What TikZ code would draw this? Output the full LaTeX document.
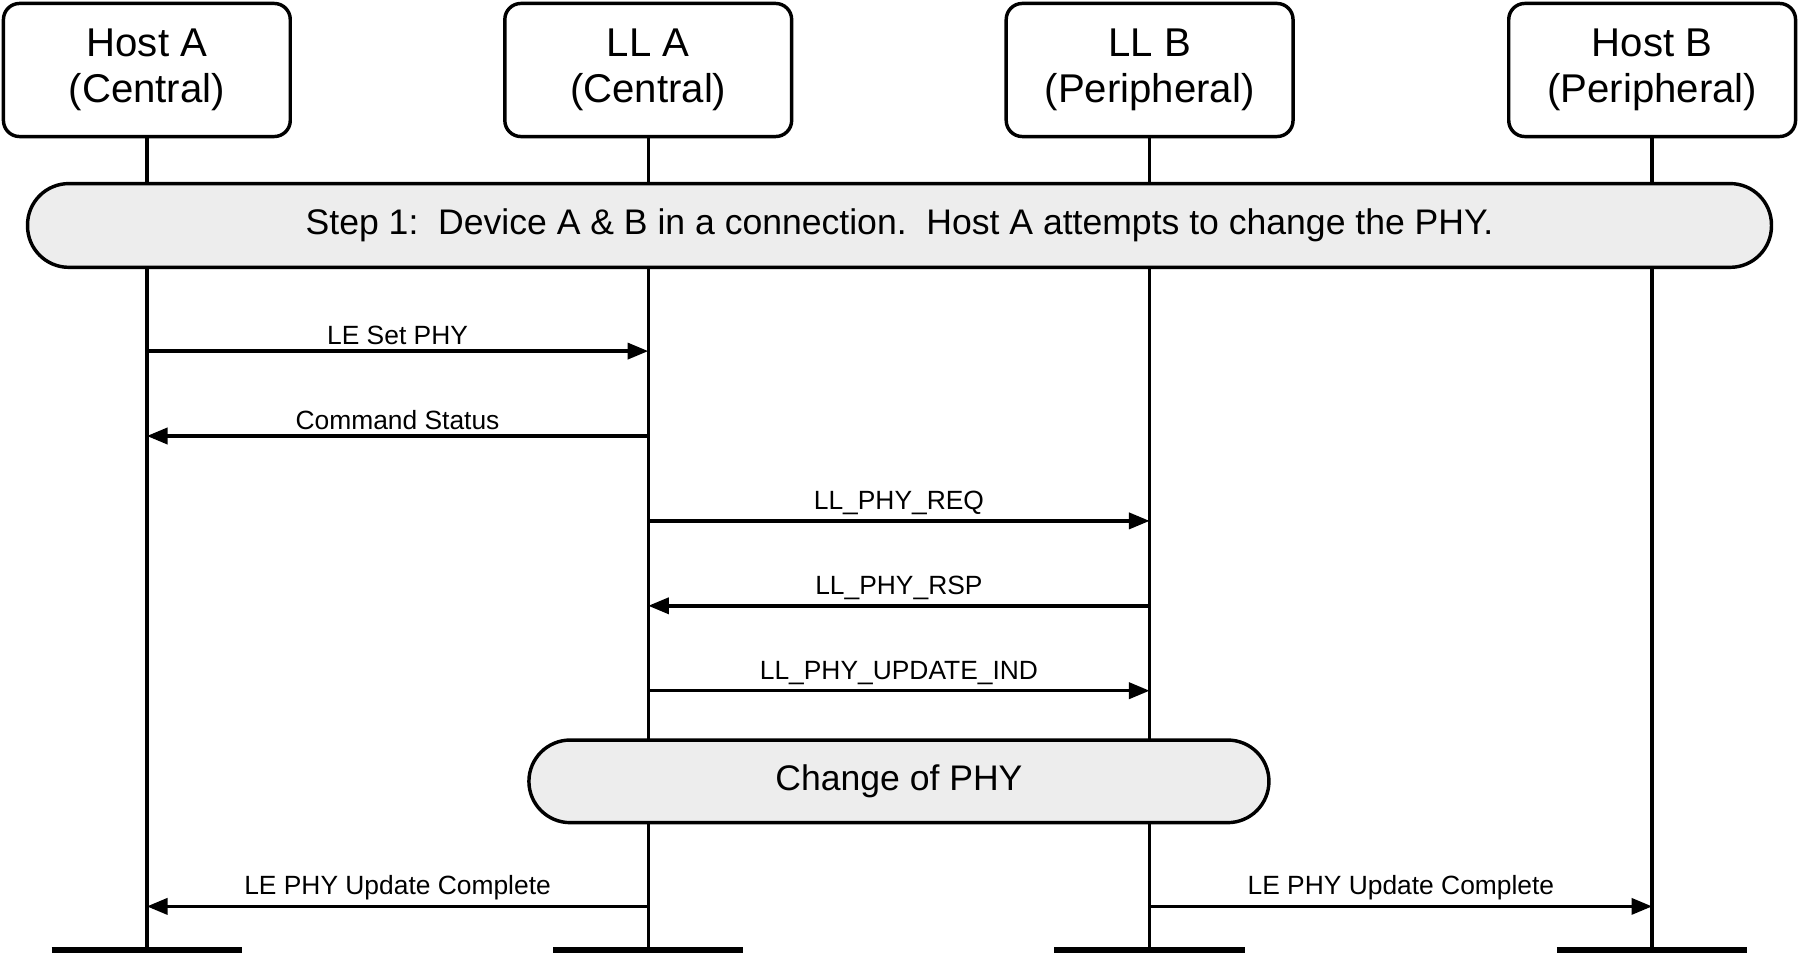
\documentclass[tikz,border=0pt]{standalone}
\usepackage{fontspec}
\setmainfont{Liberation Sans}
\usetikzlibrary{arrows.meta}
\begin{document}
\begin{tikzpicture}[x=0.5pt,y=-0.5pt,
  hdr/.style={draw,line width=1.5pt,rounded corners=7pt,minimum width=125pt,minimum height=58pt,align=center,font=\fontsize{17.5}{20}\selectfont,inner sep=0pt},
  life/.style={line width=1.5pt},
  bar/.style={line width=3pt},
  phase/.style={draw,line width=1.5pt,fill=black!7,rounded corners=18pt,inner sep=0pt,font=\fontsize{15.5}{18}\selectfont},
  msg/.style={line width=1.5pt,-{Triangle[length=9pt,width=7pt]}},
  lbl/.style={font=\fontsize{11.5}{13}\selectfont,above,inner sep=2pt}]
\useasboundingbox (0,0) rectangle (1568,832);
\node[hdr] (ha) at (128,61) {Host A\\(Central)};
\node[hdr] (la) at (565,61) {LL A\\(Central)};
\node[hdr] (lb) at (1002,61) {LL B\\(Peripheral)};
\node[hdr] (hb) at (1440,61) {Host B\\(Peripheral)};
\foreach \n/\x in {ha/128,la/565,lb/1002,hb/1440}{
  \coordinate (\n e) at (\x,826);
  \draw[life] (\n.south) -- (\n e);
  \draw[bar] (\x-83,828) -- (\x+83,828);
}
\node[phase,minimum width=760pt,minimum height=36.5pt] (s1) at (784,196.5) {Step 1:\ \ Device A \& B in a connection.\ \ Host A attempts to change the PHY.};
\node[phase,minimum width=322.5pt,minimum height=36pt] (s2) at (783.5,681) {Change of PHY};
\foreach \n in {ha,la,lb,hb}{
  \foreach \y in {306,380,454,528,602,790}{\coordinate (\n\y) at (\n|-0,\y);}
}
\draw[msg] (ha306) -- node[lbl]{LE Set PHY} (la306);
\draw[msg] (la380) -- node[lbl]{Command Status} (ha380);
\draw[msg] (la454) -- node[lbl]{LL\_PHY\_REQ} (lb454);
\draw[msg] (lb528) -- node[lbl]{LL\_PHY\_RSP} (la528);
\draw[msg] (la602) -- node[lbl]{LL\_PHY\_UPDATE\_IND} (lb602);
\draw[msg] (la790) -- node[lbl]{LE PHY Update Complete} (ha790);
\draw[msg] (lb790) -- node[lbl]{LE PHY Update Complete} (hb790);
\end{tikzpicture}
\end{document}
